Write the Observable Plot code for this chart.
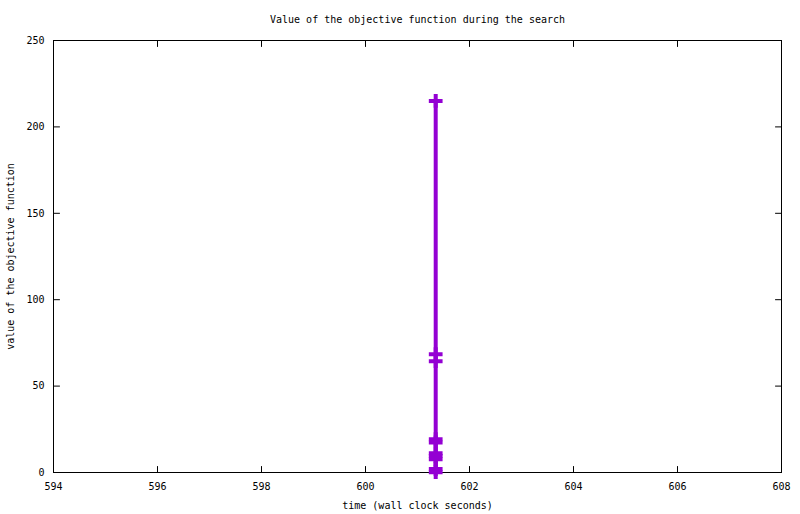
<!DOCTYPE html>
<html>
<head>
<meta charset="utf-8">
<script src="https://cdn.jsdelivr.net/npm/d3@7"></script>
<script src="https://cdn.jsdelivr.net/npm/@observablehq/plot@0.6"></script>
<style>
  html, body { margin: 0; padding: 0; background: #fff; }
  #chart svg { display: block; }
</style>
</head>
<body>
<div id="chart"></div>
<script>
// Data
const times = [601.35, 601.35, 601.35, 601.35, 601.35, 601.35, 601.35, 601.35, 601.35, 601.35];
const objective = [215, 68.5, 64.4, 19.3, 17.4, 11.2, 9.5, 7.7, 2.0, 0.2];
const xTicks = [594, 596, 598, 600, 602, 604, 606, 608];
const yTicks = [0, 50, 100, 150, 200, 250];
const titleText = "Value of the objective function during the search";
const xLabel = "time (wall clock seconds)";
const yLabel = "value of the objective function";

const data = times.map((t, i) => ({time: t, value: objective[i]}));
const font = "'DejaVu Sans Mono', 'Liberation Mono', monospace";
const color = "#9400d3";
const tickShape = {draw(context, l) { context.moveTo(0, 0); context.lineTo(0, -l); }};

const chart = Plot.plot({
  width: 800,
  height: 514,
  marginLeft: 53,
  marginRight: 19,
  marginTop: 40,
  marginBottom: 42,
  style: {fontFamily: font, fontSize: "10px", background: "#fff", color: "#000"},
  x: {domain: [594, 608]},
  y: {domain: [0, 250]},
  marks: [
    Plot.axisX(xTicks, {tickSize: 0, tickPadding: 10, fontSize: 10, fontFamily: font, label: null}),
    Plot.axisY(yTicks, {tickSize: 0, tickPadding: 9, fontSize: 10, fontFamily: font, label: null}),
    // inward ticks on all four sides (gnuplot style, mirrored)
    Plot.vectorX(xTicks, {x: d => d, frameAnchor: "bottom", length: 6, anchor: "start", rotate: 0, shape: tickShape, stroke: "#000", strokeWidth: 1}),
    Plot.vectorX(xTicks, {x: d => d, frameAnchor: "top", length: 6, anchor: "start", rotate: 180, shape: tickShape, stroke: "#000", strokeWidth: 1}),
    Plot.vectorY(yTicks, {y: d => d, frameAnchor: "left", length: 6, anchor: "start", rotate: 90, shape: tickShape, stroke: "#000", strokeWidth: 1}),
    Plot.vectorY(yTicks, {y: d => d, frameAnchor: "right", length: 6, anchor: "start", rotate: -90, shape: tickShape, stroke: "#000", strokeWidth: 1}),
    Plot.frame({stroke: "#000", strokeWidth: 1}),
    Plot.line(data, {x: "time", y: "value", stroke: color, strokeWidth: 4}),
    Plot.dot(data, {x: "time", y: "value", symbol: "plus", r: 4.5, stroke: color, strokeWidth: 4}),
    Plot.text([titleText], {frameAnchor: "top", lineAnchor: "middle", dy: -21, fontSize: 10, fontFamily: font, fill: "#000"}),
    Plot.text([xLabel], {frameAnchor: "bottom", lineAnchor: "middle", dy: 33, fontSize: 10, fontFamily: font, fill: "#000"}),
    Plot.text([yLabel], {frameAnchor: "left", textAnchor: "middle", lineAnchor: "middle", dx: -43, rotate: -90, fontSize: 10, fontFamily: font, fill: "#000"})
  ]
});
document.getElementById("chart").appendChild(chart);
</script>
</body>
</html>
